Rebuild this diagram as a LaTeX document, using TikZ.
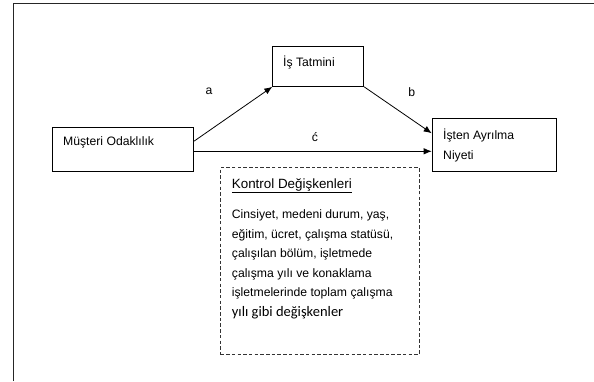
\documentclass[tikz,border=0pt]{standalone}
\usepackage{fontspec}
\setmainfont{Liberation Sans}
\newfontfamily\carlfont{Carlito}
\usetikzlibrary{arrows.meta,calc}
\begin{document}
\begin{tikzpicture}[x=1pt,y=-1pt,
  box/.style={draw, line width=0.8pt, inner sep=0pt, anchor=north west},
  dbox/.style={draw=black!80, line width=0.8pt, dash pattern=on 3.5pt off 2.2pt, inner sep=0pt, anchor=north west},
  txt/.style={inner sep=0pt, anchor=base west, font=\fontsize{12.2}{19.5}\selectfont},
  lab/.style={inner sep=0pt, anchor=base, font=\fontsize{12.2}{14}\selectfont},
  arr/.style={line width=0.8pt, -{Latex[length=8pt,width=6.5pt]}},
  frame/.style={draw=black!85, line width=1.3pt}]
\useasboundingbox (0,0) rectangle (594,381);
% outer frame (cut off at right and bottom)
\coordinate (f1) at (13.5,381);
\coordinate (f2) at (13.5,3.7);
\coordinate (f3) at (594,3.7);
\draw[frame] (f1) -- (f2) -- (f3);
% boxes
\node[box, minimum width=141.6pt, minimum height=44.3pt] (mo) at (51.7,126.7) {};
\node[box, minimum width=91pt, minimum height=40pt] (it) at (272.3,46) {};
\node[box, minimum width=124.3pt, minimum height=52.7pt] (ist) at (431.7,118) {};
\node[dbox, minimum width=199pt, minimum height=187pt] (kd) at (220,167) {};
% box texts
\node[txt] (tmo) at (63,145.3) {Müşteri Odaklılık};
\node[txt] (tit) at (283,66.3) {İş Tatmini};
\node[txt, align=left, anchor=north west] (tist) at (443,128.8) {İşten Ayrılma\\Niyeti};
\node[txt, font=\fontsize{13.4}{16}\selectfont] (tkd) at (231.7,188) {\underline{Kontrol Değişkenleri}};
\node[txt, align=left, anchor=north west] (tbody) at (231.7,209.8) {Cinsiyet, medeni durum, yaş,\\eğitim, ücret, çalışma statüsü,\\çalışılan bölüm, işletmede\\çalışma yılı ve konaklama\\işletmelerinde toplam çalışma\\{\carlfont\fontsize{14.5}{19.5}\selectfont yılı gibi değişkenler}};
% connectors
\coordinate (sa) at ($(mo.north east)!0.32!(mo.south east)$);
\coordinate (sc) at ($(mo.north east)!0.545!(mo.south east)$);
\coordinate (eb) at ($(ist.north west)!0.285!(ist.south west)$);
\draw[arr] (sa) -- (it.south west);
\draw[arr] (it.south east) -- (eb);
\draw[arr] (sc) -- (sc -| ist.west);
% path labels
\node[lab] (la) at (209,94.7) {a};
\node[lab] (lb) at (411.7,96) {b};
\node[lab] (lc) at (315,141) {ć};
\end{tikzpicture}
\end{document}
